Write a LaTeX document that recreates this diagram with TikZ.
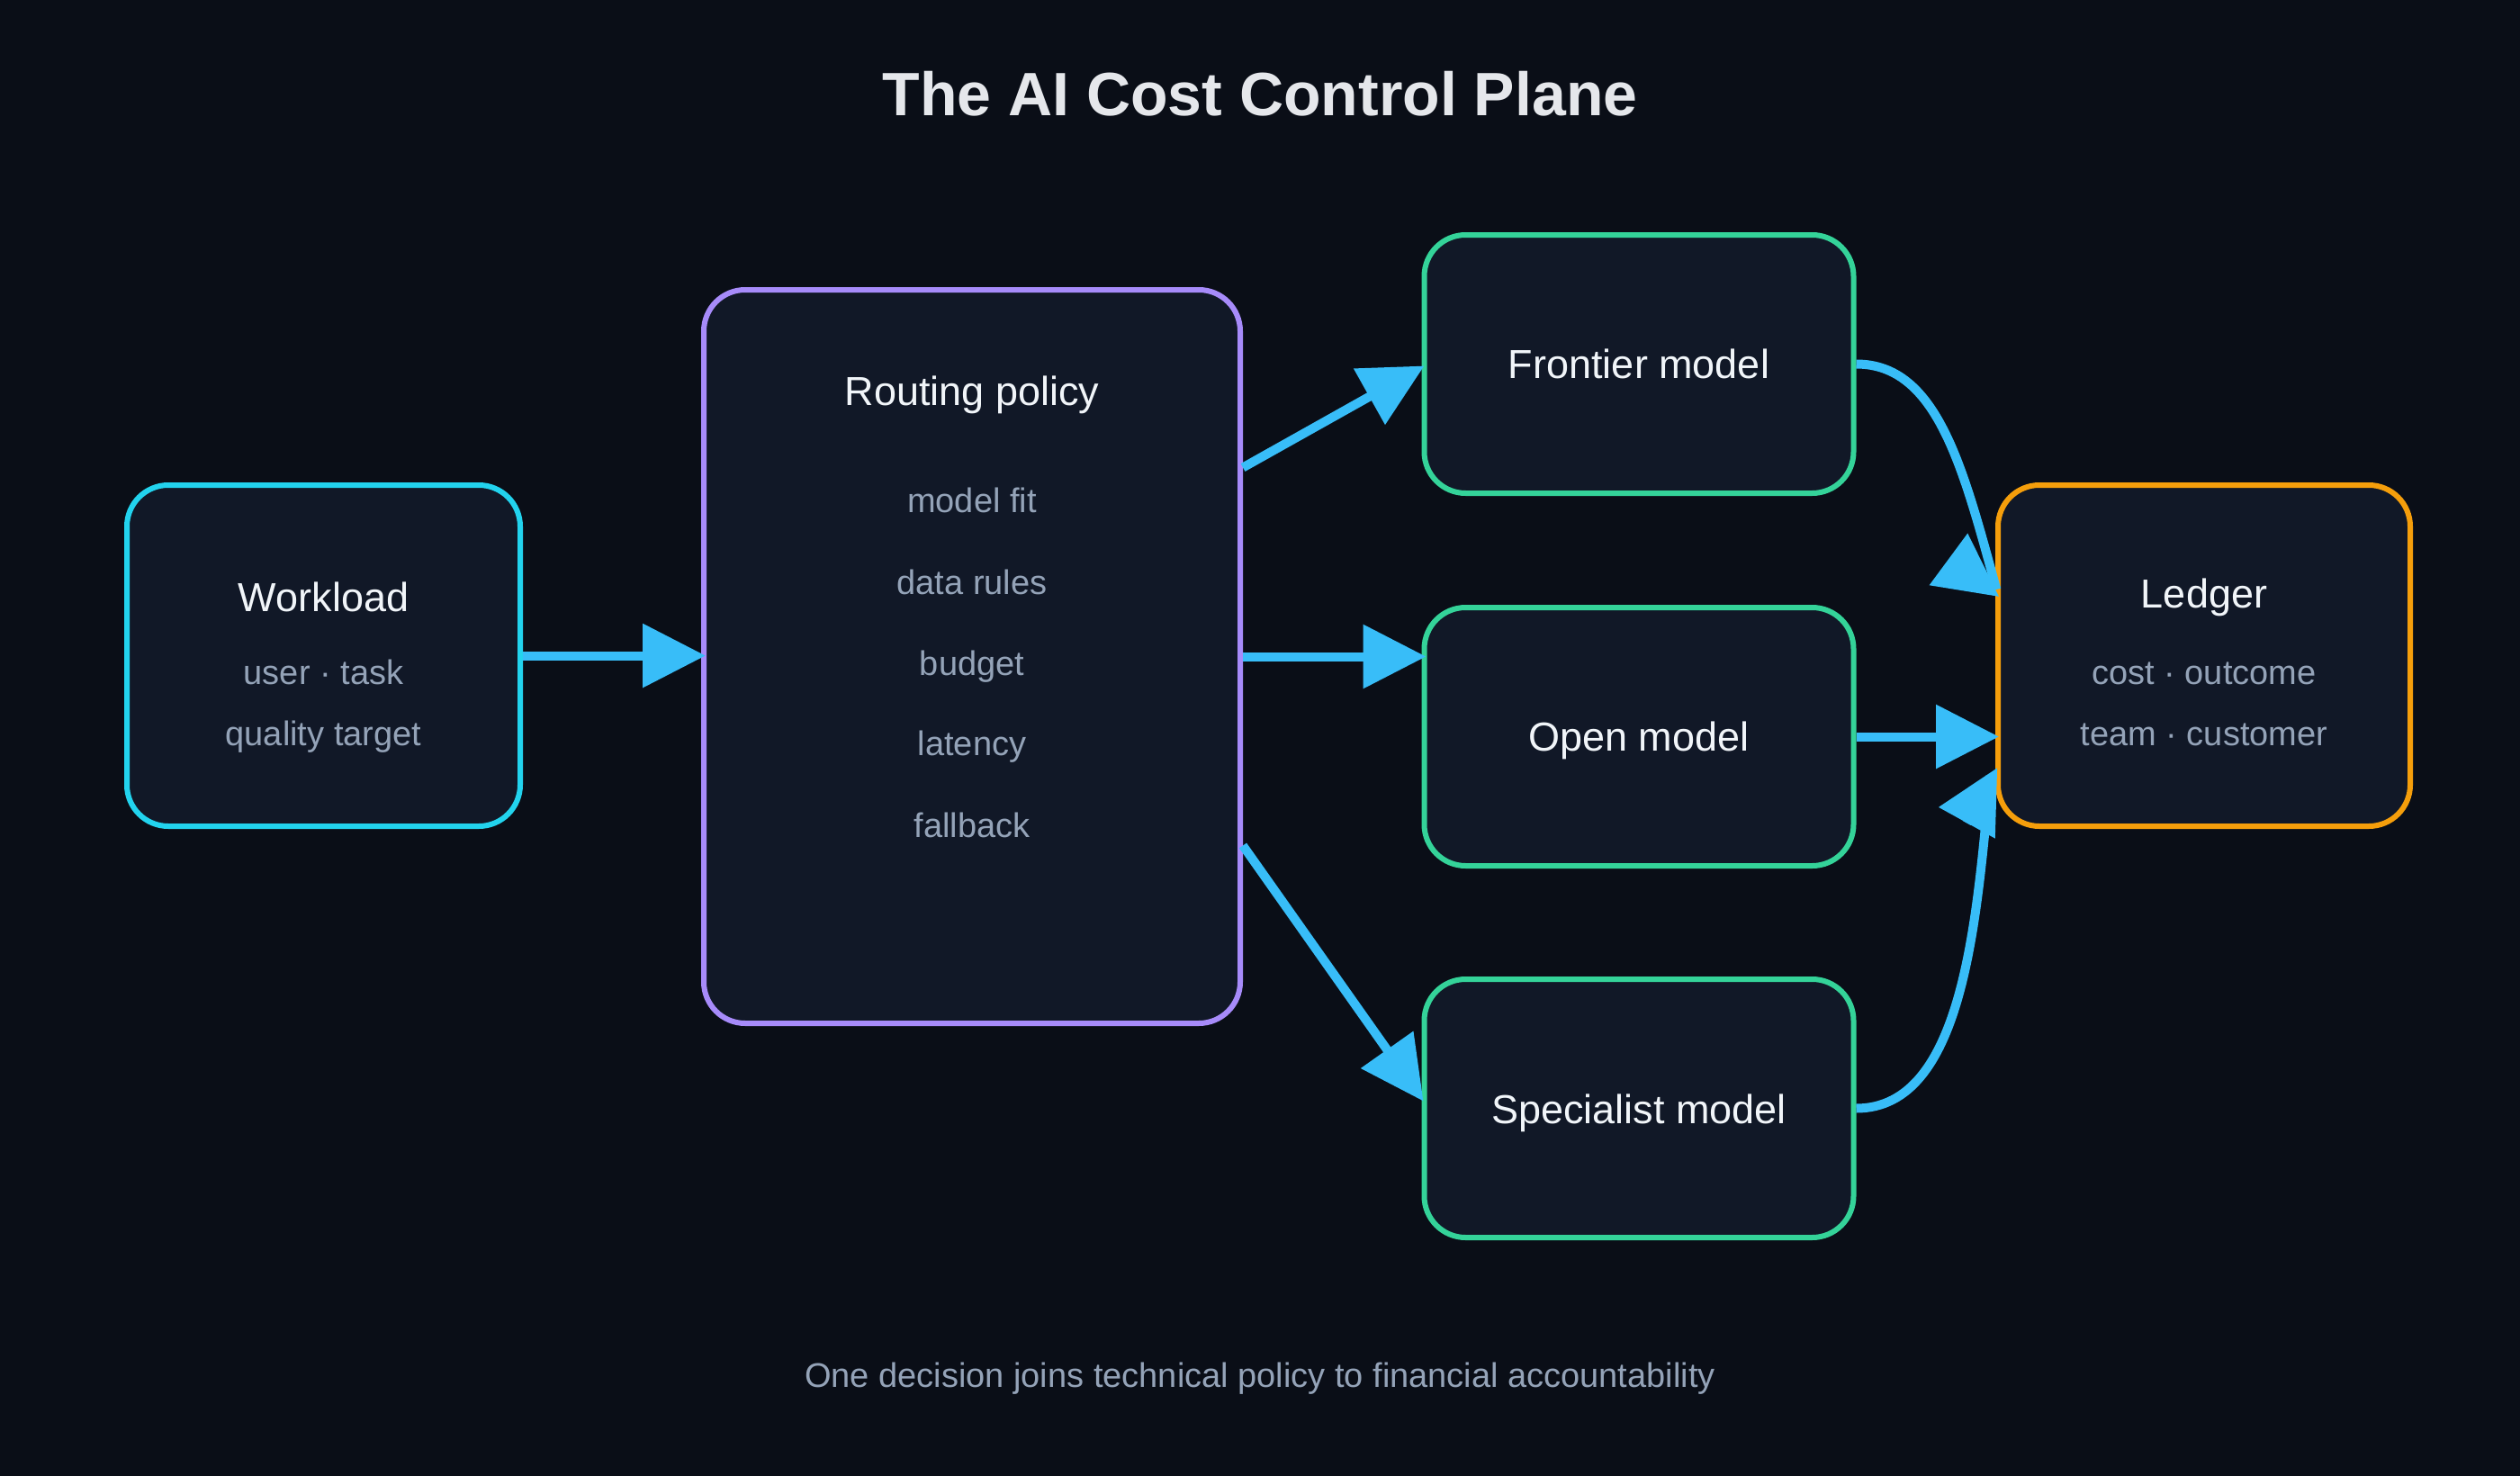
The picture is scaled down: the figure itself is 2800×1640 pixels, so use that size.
\documentclass[tikz,border=0pt]{standalone}
\usepackage{fontspec}
\setmainfont{Liberation Sans}
\usetikzlibrary{arrows.meta,calc}
\definecolor{bg}{HTML}{0A0E17}
\definecolor{boxfill}{HTML}{111827}
\definecolor{cyanb}{HTML}{22D3EE}
\definecolor{violetb}{HTML}{A78BFA}
\definecolor{greenb}{HTML}{34D399}
\definecolor{amberb}{HTML}{F59E0B}
\definecolor{arrowc}{HTML}{38BDF8}
\definecolor{titlec}{HTML}{E5E7EB}
\definecolor{headc}{HTML}{F1F5F9}
\definecolor{subc}{HTML}{94A3B8}
\tikzset{
  box/.style={rectangle, rounded corners=46pt, fill=boxfill, line width=6pt, inner sep=0pt},
  head/.style={text=headc, font=\fontsize{45}{54}\selectfont, anchor=base, inner sep=0pt},
  sub/.style={text=subc, font=\fontsize{38}{46}\selectfont, anchor=base, inner sep=0pt},
  wire/.style={draw=arrowc, line width=10pt},
  conn/.style={wire, -{Triangle[length=70pt,width=69pt]}}
}
\begin{document}
\begin{tikzpicture}[x=1pt,y=-1pt]
\useasboundingbox (0,0) rectangle (2800,1640);
\fill[bg] (0,0) rectangle (2800,1640);

\node[text=titlec, font=\fontsize{68}{80}\selectfont\bfseries, anchor=base, inner sep=0pt] (title) at (1400,129) {The AI Cost Control Plane};

% boxes
\node[box, draw=cyanb, minimum width=437pt, minimum height=379pt] (work) at (359.5,728.5) {};
\node[box, draw=violetb, minimum width=596pt, minimum height=815pt] (route) at (1080,729.5) {};
\node[box, draw=greenb, minimum width=477pt, minimum height=287pt] (front) at (1821,404.5) {};
\node[box, draw=greenb, minimum width=477pt, minimum height=287pt] (open) at (1821,818.5) {};
\node[box, draw=greenb, minimum width=477pt, minimum height=287pt] (spec) at (1821,1231.5) {};
\node[box, draw=amberb, minimum width=458pt, minimum height=379pt] (ledger) at (2449,728.5) {};

% texts
\node[head] (workh) at (359.5,679) {Workload};
\node[sub] (works1) at (359.5,760) {user · task};
\node[sub] (works2) at (359.5,828) {quality target};

\node[head] (routeh) at (1080,450) {Routing policy};
\node[sub] (ri1) at (1080,569) {model fit};
\node[sub] (ri2) at (1080,660) {data rules};
\node[sub] (ri3) at (1080,750) {budget};
\node[sub] (ri4) at (1080,839) {latency};
\node[sub] (ri5) at (1080,930) {fallback};

\node[head] (fronth) at (1821,420) {Frontier model};
\node[head] (openh) at (1821,834) {Open model};
\node[head] (spech) at (1821,1248) {Specialist model};

\node[head] (ledgerh) at (2449,675) {Ledger};
\node[sub] (ledgers1) at (2449,760) {cost · outcome};
\node[sub] (ledgers2) at (2449,828) {team · customer};

\node[sub] (foot) at (1400,1541) {One decision joins technical policy to financial accountability};

% connector end points
\coordinate (flend) at ($(ledger.west)+(1.25,-73.5)$);
\coordinate (fltip) at ($(ledger.west)+(4.25,-65.5)$);
\coordinate (flbase) at ($(ledger.west)+(-51.25,-106.5)$);
\coordinate (slend) at ($(ledger.west)+(-5.75,133.5)$);
\coordinate (sltip) at ($(ledger.west)+(2.25,124.5)$);
\coordinate (slbase) at ($(ledger.west)+(-31.75,186)$);

% connectors
\draw[conn] (work.east) -- ($(work.east -| route.west)+(5,0)$);
\draw[conn] ($(route.east)+(0,-210)$) -- ($(front.west)+(3,2)$);
\draw[conn] (route.east) -- ($(route.east -| open.west)+(5,0)$);
\draw[conn] ($(route.east)+(0,210)$) -- ($(spec.west)+(2,-8)$);
\draw[conn] (open.east) -- ($(open.east -| ledger.west)+(4,0)$);
\draw[wire] (front.east) .. controls ($(front.east)+(90,0)$) and ($(ledger.west)+(-35.75,-208.5)$) .. (flend);
\draw[conn] (flbase) -- (fltip);
\draw[wire] (spec.east) .. controls ($(spec.east)+(120,0)$) and ($(ledger.west)+(-20.75,291.5)$) .. (slend);
\draw[conn] (slbase) -- (sltip);
\end{tikzpicture}
\end{document}
